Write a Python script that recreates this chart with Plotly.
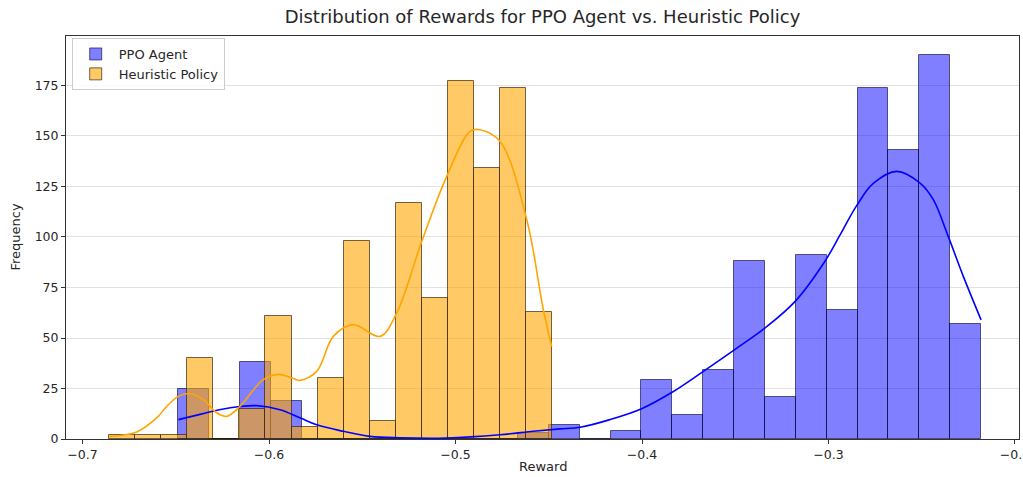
import plotly.graph_objects as go

# ---------------- data ----------------
ppo_bin_start = -0.6486
ppo_bin_width = 0.016554
ppo_counts = [25, 0, 38, 19, 0, 0, 0, 0, 0, 0, 0, 3, 7, 0, 4, 29, 12, 34, 88, 21,
              91, 64, 174, 143, 190, 57]

heur_bin_start = -0.6856
heur_bin_width = 0.013953
heur_counts = [2, 2, 2, 40, 0, 15, 61, 6, 30, 98, 9, 117, 70, 177, 134, 174, 63]

ppo_kde_x = [-0.6486, -0.637, -0.6266, -0.6156, -0.6066, -0.5941, -0.5834, -0.5744,
             -0.5602, -0.5458, -0.53, -0.5047, -0.4761, -0.4583, -0.4440, -0.4332,
             -0.4172, -0.4002, -0.3841, -0.3671, -0.3499, -0.334, -0.318, -0.3019,
             -0.2938, -0.2849, -0.276, -0.2634, -0.2509, -0.2438, -0.2358, -0.2277,
             -0.2182]
ppo_kde_y = [9.6, 12.2, 14.5, 16.1, 16.5, 14.5, 10.5, 7.0,
             3.8, 1.3, 0.6, 0.5, 2.1, 3.8, 5.0, 5.8,
             9.6, 15.0, 23.0, 33.5, 44.5, 55.0, 68.0, 88.0,
             101.0, 115.5, 126.5, 132.5, 126.7, 118.5, 100.3, 80.5,
             59.0]

heur_kde_x = [-0.6856, -0.6709, -0.6594, -0.6549, -0.6486, -0.6430, -0.6360, -0.6281,
              -0.6227, -0.6156, -0.6031, -0.5950, -0.5870, -0.5834, -0.5744, -0.5655,
              -0.5548, -0.5405, -0.5315, -0.5181, -0.5047, -0.4922, -0.4869, -0.4761,
              -0.4618, -0.4529, -0.4484]
heur_kde_y = [1.3, 3.5, 11.2, 16.1, 21.1, 22.5, 20.0, 13.0,
              11.2, 16.1, 29.4, 32.0, 30.0, 29.0, 33.5, 50.8,
              56.6, 50.8, 62.4, 97.8, 130.0, 152.3, 153.1, 147.3,
              108.6, 64.0, 45.8]

x_tick_vals = [-0.7, -0.6, -0.5, -0.4, -0.3, -0.2]
x_tick_text = ["\u22120.7", "\u22120.6", "\u22120.5", "\u22120.4", "\u22120.3", "\u22120.2"]
y_tick_vals = [0, 25, 50, 75, 100, 125, 150, 175]

title_text = "Distribution of Rewards for PPO Agent vs. Heuristic Policy"
x_label = "Reward"
y_label = "Frequency"
ppo_name = "PPO Agent"
heur_name = "Heuristic Policy"

# ---------------- figure ----------------
ppo_centers = [ppo_bin_start + (i + 0.5) * ppo_bin_width for i in range(len(ppo_counts))]
heur_centers = [heur_bin_start + (i + 0.5) * heur_bin_width for i in range(len(heur_counts))]

FONT = "DejaVu Sans"
TXT = "#262626"
fig = go.Figure()

fig.add_trace(go.Bar(
    x=ppo_centers, y=ppo_counts, width=[ppo_bin_width] * len(ppo_counts),
    name=ppo_name,
    marker=dict(color="rgba(0,0,255,0.5)", line=dict(color="rgba(0,0,40,0.6)", width=1)),
))
fig.add_trace(go.Bar(
    x=heur_centers, y=heur_counts, width=[heur_bin_width] * len(heur_counts),
    name=heur_name,
    marker=dict(color="rgba(255,165,0,0.6)", line=dict(color="rgba(40,25,0,0.65)", width=1)),
))
fig.add_trace(go.Scatter(
    x=ppo_kde_x, y=ppo_kde_y, mode="lines", line=dict(color="blue", width=1.6, shape="spline"),
    showlegend=False, hoverinfo="skip",
))
fig.add_trace(go.Scatter(
    x=heur_kde_x, y=heur_kde_y, mode="lines", line=dict(color="orange", width=1.6, shape="spline"),
    showlegend=False, hoverinfo="skip",
))

axis_common = dict(
    showline=True, linecolor="#333333", linewidth=1, mirror=True,
    ticks="outside", ticklen=4, tickcolor="#333333", tickwidth=1,
    tickfont=dict(family=FONT, size=12.5, color=TXT),
    zeroline=False, automargin=False, ticklabeloverflow="allow",
)

fig.update_layout(
    width=1023, height=477,
    margin=dict(l=66, r=4, t=36, b=38, autoexpand=False),
    paper_bgcolor="white", plot_bgcolor="white",
    barmode="overlay", bargap=0,
    font=dict(family=FONT, size=12.5, color=TXT),
    title=dict(text=title_text, x=0.5, xref="paper", xanchor="center",
               y=1 - 17 / 477, yref="container", yanchor="middle",
               font=dict(family=FONT, size=18, color=TXT)),
    legend=dict(x=0.006, y=0.995, xanchor="left", yanchor="top",
                bgcolor="rgba(255,255,255,0.85)", bordercolor="#cccccc", borderwidth=1,
                font=dict(family=FONT, size=13, color=TXT),
                tracegroupgap=0, itemwidth=36),
    showlegend=True,
    annotations=[
        dict(text=x_label, xref="paper", yref="paper", x=0.5, y=(439 - 466) / 403,
             showarrow=False, xanchor="center", yanchor="middle",
             font=dict(family=FONT, size=13, color=TXT)),
        dict(text=y_label, xref="paper", yref="paper", x=(15 - 66) / 953, y=0.5,
             showarrow=False, xanchor="center", yanchor="middle", textangle=-90,
             font=dict(family=FONT, size=13, color=TXT)),
    ],
)
fig.update_xaxes(range=[-0.70885, -0.19785], tickvals=x_tick_vals, ticktext=x_tick_text,
                 showgrid=False, **axis_common)
fig.update_yaxes(range=[0, 199.5], tickvals=y_tick_vals, showgrid=True,
                 gridcolor="rgba(190,190,190,0.45)", gridwidth=1, **axis_common)

fig.write_html("out.html", config={"displayModeBar": False},
               post_script="document.body.style.margin='0';")
